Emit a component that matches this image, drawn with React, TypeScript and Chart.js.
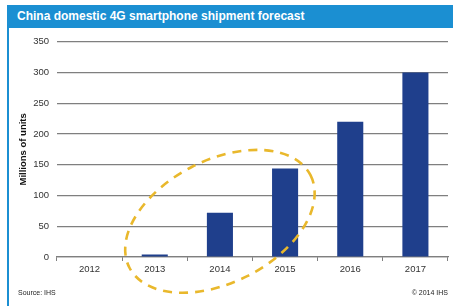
import React, { useEffect, useRef } from "react";
import { Chart, registerables } from "chart.js";

Chart.register(...registerables);

const categories = ["2012", "2013", "2014", "2015", "2016", "2017"];
const shipments = [0, 4, 72, 144, 220, 300];
const yTicks = [0, 50, 100, 150, 200, 250, 300, 350];
const ellipseCenter = { index: 2, value: 58 };

const FONT = "'Liberation Sans', Arial, sans-serif";

const ellipsePlugin = {
  id: "ellipseHighlight",
  afterDatasetsDraw(chart: any) {
    const { ctx, scales } = chart;
    const x = scales.x;
    const y = scales.y;
    const catW = x.getPixelForValue(1) - x.getPixelForValue(0);
    const cx = x.getPixelForValue(ellipseCenter.index);
    const cy = y.getPixelForValue(ellipseCenter.value);
    ctx.save();
    ctx.beginPath();
    ctx.ellipse(cx, cy, catW * 1.56, catW * 0.94, (-27 * Math.PI) / 180, 0, Math.PI * 2);
    ctx.setLineDash([9, 7]);
    ctx.lineWidth = 2.6;
    ctx.strokeStyle = "#e9b82c";
    ctx.stroke();
    ctx.restore();
  },
};

export default function App() {
  const ref = useRef<HTMLCanvasElement>(null);

  useEffect(() => {
    if (!ref.current) return;
    const chart = new Chart(ref.current, {
      type: "bar",
      data: {
        labels: categories,
        datasets: [
          {
            data: shipments,
            backgroundColor: "#1f3f8c",
            borderWidth: 0,
            barPercentage: 0.4,
            categoryPercentage: 1,
          },
        ],
      },
      options: {
        animation: false,
        responsive: false,
        maintainAspectRatio: false,
        layout: { padding: { left: 0, right: 5, top: 12, bottom: 0 } },
        plugins: {
          legend: { display: false },
          tooltip: { enabled: false },
          title: { display: false },
        },
        scales: {
          x: {
            offset: true,
            grid: {
              offset: true,
              drawOnChartArea: false,
              drawTicks: true,
              tickLength: 4,
              color: "#7f7f7f",
              lineWidth: 1,
            },
            border: { display: true, color: "#7f7f7f", width: 1.2 },
            ticks: {
              color: "#333",
              font: { family: FONT, size: 9.5 },
              padding: 3,
            },
            afterFit(s: any) {
              s.height = 49;
            },
          },
          y: {
            min: 0,
            max: 350,
            afterBuildTicks(s: any) {
              s.ticks = yTicks.map((v) => ({ value: v }));
            },
            grid: {
              drawTicks: false,
              color: "#7f7f7f",
              lineWidth: 1.2,
            },
            border: { display: false },
            ticks: {
              color: "#333",
              font: { family: FONT, size: 9.5 },
              padding: 8,
            },
            title: {
              display: true,
              text: "Millions of units",
              color: "#111",
              font: { family: FONT, size: 9.5, weight: "bold" },
              padding: { top: 9, bottom: 0 },
            },
            afterFit(s: any) {
              s.width = 48;
            },
          },
        },
      },
      plugins: [ellipsePlugin],
    });
    return () => chart.destroy();
  }, []);

  return (
    <div
      style={{
        position: "fixed",
        left: 7,
        top: 5,
        width: 446,
        height: 301,
        background: "#fff",
        borderLeft: "2px solid #1b8fd2",
        boxSizing: "border-box",
        fontFamily: FONT,
      }}
    >
      <div
        style={{
          position: "absolute",
          left: -2,
          top: 0,
          width: 446,
          height: 23,
          background: "#1b8fd2",
          color: "#fff",
          fontWeight: "bold",
          fontSize: 12,
          lineHeight: "23px",
          paddingLeft: 10,
          boxSizing: "border-box",
        }}
      >
        China domestic 4G smartphone shipment forecast
      </div>
      <canvas
        ref={ref}
        width={444}
        height={278}
        style={{ position: "absolute", left: 0, top: 23, width: 444, height: 278 }}
      />
      <div
        style={{
          position: "absolute",
          left: 9,
          top: 284,
          fontSize: 7,
          color: "#222",
        }}
      >
        Source: IHS
      </div>
      <div
        style={{
          position: "absolute",
          right: 5,
          top: 284,
          fontSize: 7,
          color: "#222",
        }}
      >
        © 2014 IHS
      </div>
    </div>
  );
}
